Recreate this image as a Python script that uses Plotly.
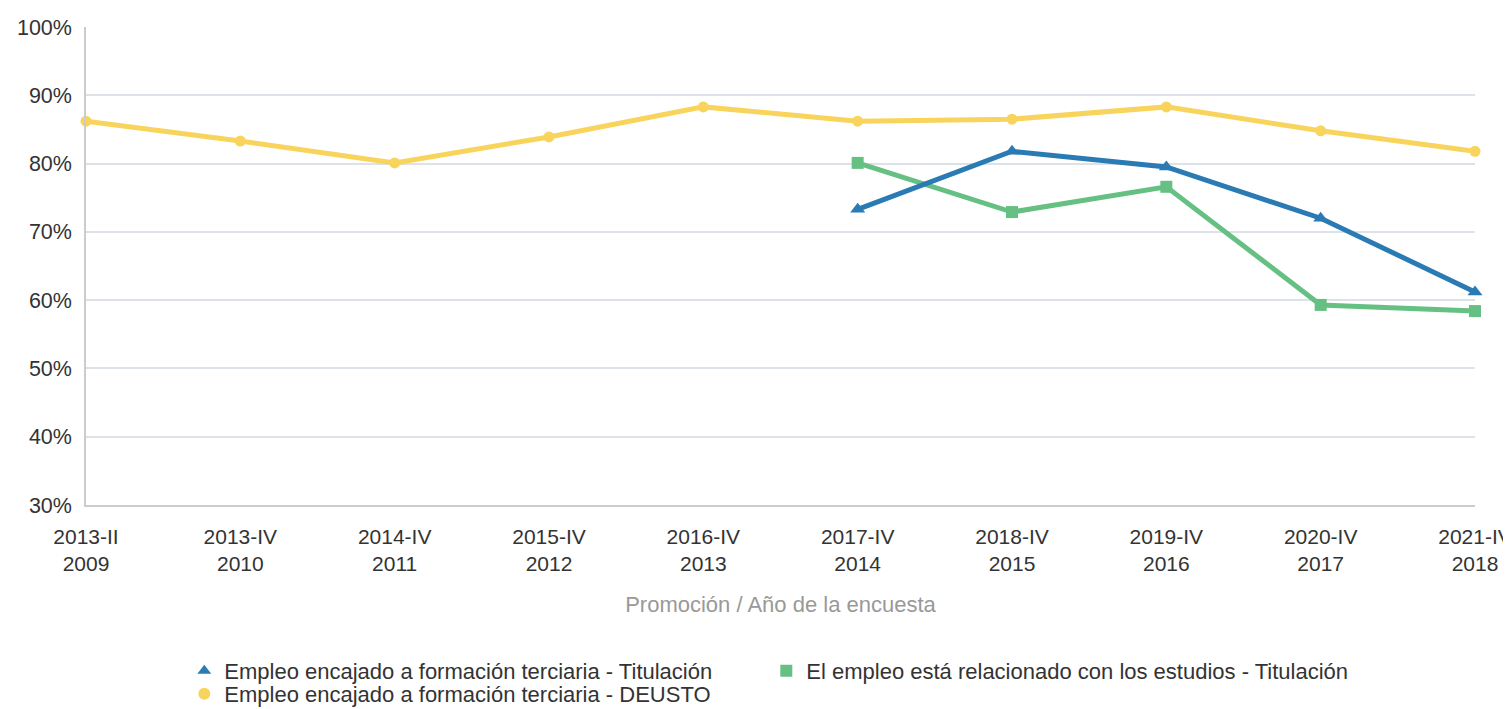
import plotly.graph_objects as go

categories = ["2013-II<br>2009", "2013-IV<br>2010", "2014-IV<br>2011", "2015-IV<br>2012",
              "2016-IV<br>2013", "2017-IV<br>2014", "2018-IV<br>2015", "2019-IV<br>2016",
              "2020-IV<br>2017", "2021-IV<br>2018"]
encajado_titulacion = [None, None, None, None, None, 73.3, 81.8, 79.5, 72.0, 61.2]
relacionado_titulacion = [None, None, None, None, None, 80.1, 72.9, 76.6, 59.3, 58.4]
encajado_deusto = [86.2, 83.3, 80.1, 83.9, 88.3, 86.2, 86.5, 88.3, 84.8, 81.8]

names = ["Empleo encajado a formación terciaria - Titulación",
         "El empleo está relacionado con los estudios - Titulación",
         "Empleo encajado a formación terciaria - DEUSTO"]
colors = ["#2a7ab3", "#66c083", "#f9d45c"]
symbols = ["triangle-up", "square", "circle"]
sizes = [13, 12, 11]
legend_ids = ["legend", "legend", "legend2"]
series = [encajado_titulacion, relacionado_titulacion, encajado_deusto]

fig = go.Figure()
for i in [2, 1, 0]:
    fig.add_trace(go.Scatter(x=categories, y=series[i], mode="lines+markers",
                             line=dict(color=colors[i], width=5),
                             marker=dict(symbol=symbols[i], size=sizes[i], color=colors[i]),
                             showlegend=False, cliponaxis=False, connectgaps=False))
for i in range(3):
    fig.add_trace(go.Scatter(x=[categories[0]], y=[None], mode="markers", name=names[i],
                             legend=legend_ids[i],
                             marker=dict(symbol=symbols[i], size=12, color=colors[i])))

legend_common = dict(orientation="h", xref="container", yref="container",
                     x=0.1173, xanchor="left", yanchor="middle",
                     entrywidth=537, entrywidthmode="pixels",
                     font=dict(size=22, color="#333333"), itemsizing="constant",
                     bgcolor="rgba(0,0,0,0)")

fig.update_layout(
    width=1503, height=701,
    paper_bgcolor="white", plot_bgcolor="white",
    margin=dict(l=78, r=36, t=19, b=204, autoexpand=False),
    font=dict(family="Liberation Sans, Arial, sans-serif", size=22, color="#333333"),
    xaxis=dict(type="category", range=[0, 9], showgrid=False, showline=True, automargin=False,
               linecolor="#cccccc", linewidth=1.5, ticks="outside", ticklen=12,
               tickcolor="rgba(0,0,0,0)", tickfont=dict(size=21, color="#333333"),
               title=dict(text="Promoción / Año de la encuesta",
                          font=dict(size=22, color="#999999"), standoff=22)),
    yaxis=dict(range=[30, 100], dtick=10, ticksuffix="%", showgrid=True, automargin=False,
               gridcolor="#dde1e8", gridwidth=1.5, showline=True, linecolor="#cccccc",
               linewidth=1.5, ticks="outside", ticklen=8, tickcolor="rgba(0,0,0,0)",
               zeroline=False, tickfont=dict(size=21.5, color="#333333")),
    legend=dict(y=1 - 663 / 701, **legend_common),
    legend2=dict(y=1 - 686 / 701, **legend_common),
)

fig.write_html("out.html")
